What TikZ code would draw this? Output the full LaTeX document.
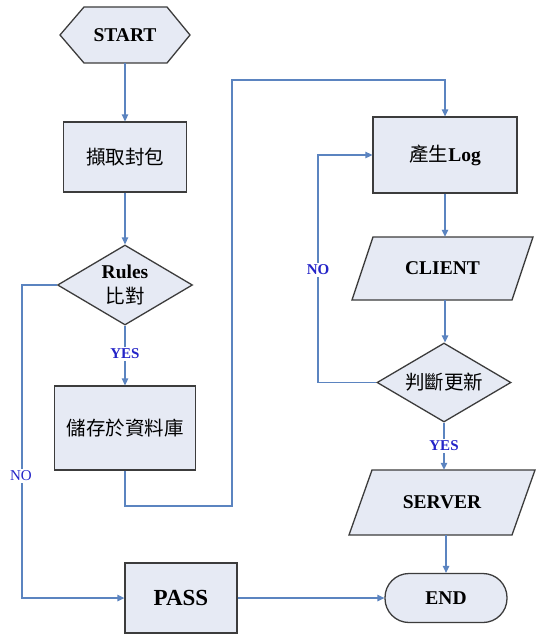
\documentclass[tikz,border=0pt]{standalone}
\usepackage{fontspec}
\setmainfont{Liberation Serif}
\newfontfamily\cjk{Noto Sans CJK TC}
\usetikzlibrary{shapes.geometric,arrows.meta}
\definecolor{boxfill}{HTML}{E6EAF4}
\definecolor{boxline}{HTML}{3C3C3C}
\definecolor{arrowc}{HTML}{5B84C0}
\definecolor{labc}{HTML}{2424C8}
\begin{document}
\begin{tikzpicture}[x=1pt,y=-1pt,
  base/.style={fill=boxfill,draw=boxline,line width=1.3pt,inner sep=0pt,align=center,
    font=\fontsize{19.5}{23}\selectfont\bfseries},
  procbox/.style 2 args={base,rectangle,minimum width=#1,minimum height=#2},
  decision/.style 2 args={base,diamond,minimum width=#1,minimum height=#2,aspect=1.7},
  outline/.style={fill=boxfill,draw=boxline,line width=1.3pt},
  textonly/.style 2 args={inner sep=0pt,align=center,minimum width=#1,minimum height=#2,
    font=\fontsize{19.5}{23}\selectfont\bfseries},
  conn/.style={draw=arrowc,line width=1.3pt,-{Triangle[length=7pt,width=6.5pt]}},
  lab/.style={font=\fontsize{15}{18}\selectfont\bfseries,text=labc,fill=white,inner sep=1.5pt}
]
\useasboundingbox (0,0) rectangle (536,634);
\fill[white] (0,0) rectangle (536,634);

% START hexagon
\filldraw[outline] (60,35) -- (84,7) -- (167,7) -- (190,35) -- (167,63) -- (84,63) -- cycle;
\node[textonly={130pt}{56pt}] (start) at (125,35) {START};

\node[procbox={123pt}{70pt}] (grab) at (125,157) {\cjk\mdseries 擷取封包};
\node[decision={135pt}{80pt}] (rules) at (125,285) {Rules\\[2pt]{\cjk\mdseries 比對}};
\node[procbox={141pt}{84pt}] (store) at (125,428) {\cjk\mdseries 儲存於資料庫};
\node[procbox={112pt}{70pt},font=\fontsize{23}{27}\selectfont\bfseries] (pass) at (181,598) {PASS};

\node[procbox={144pt}{76pt}] (log) at (445,155) {{\cjk\mdseries 產生}Log};

% CLIENT parallelogram
\filldraw[outline] (352,300) -- (373,237) -- (533,237) -- (512,300) -- cycle;
\node[textonly={160pt}{63pt}] (client) at (442.5,268.5) {CLIENT};

\node[decision={134pt}{79pt}] (decide) at (444,382.5) {\cjk\mdseries 判斷更新};

% SERVER parallelogram
\filldraw[outline] (349,535) -- (372,470) -- (535,470) -- (512,535) -- cycle;
\node[textonly={163pt}{65pt}] (server) at (442,502.5) {SERVER};

\node[base,rectangle,rounded corners=24pt,minimum width=122pt,minimum height=49pt] (end) at (446,598) {END};

\coordinate (nobend) at (22,0);
\coordinate (loopA) at (232,506);
\coordinate (loopB) at (232,80);
\coordinate (nrbend) at (318,0);

\draw[conn] (start) -- (grab);
\draw[conn] (grab) -- (rules);
\draw[conn] (rules) -- (store);
\draw[conn] (rules.west) -| (nobend |- pass.west) -- (pass.west);
\draw[conn] (store.south) |- (loopA) -- (loopB) -| (log.north);
\draw[conn] (log.south) -- (log.south |- client.north);
\draw[conn] (log.south |- client.south) -- (log.south |- decide.north);
\draw[conn] (decide.west) -| (nrbend |- log.west) -- (log.west);
\draw[conn] (decide.south) -- (decide.south |- server.north);
\draw[conn] (end.north |- server.south) -- (end.north);
\draw[conn] (pass.east) -- (end.west);

\node[lab] (yes1) at (125,354) {YES};
\node[lab,font=\fontsize{15}{18}\selectfont] (no1) at (21,476) {NO};
\node[lab] (no2) at (318,270) {NO};
\node[lab] (yes2) at (444,446) {YES};
\end{tikzpicture}
\end{document}
